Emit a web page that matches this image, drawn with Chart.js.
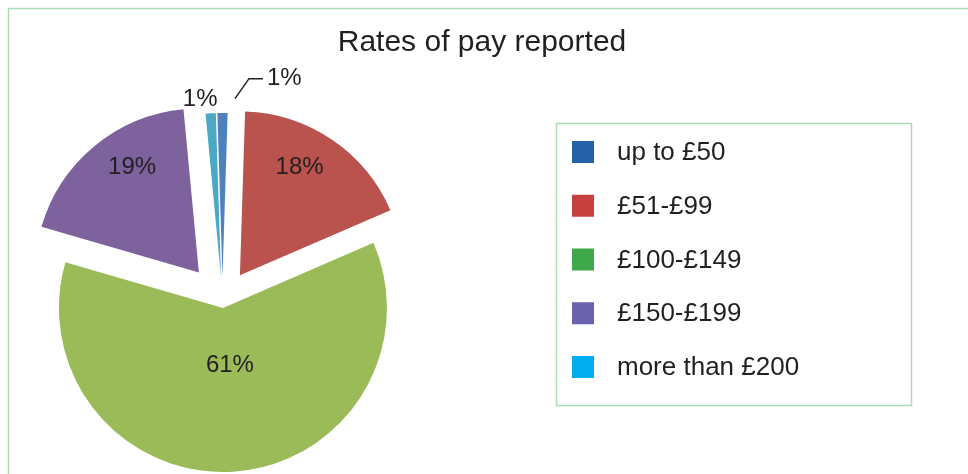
<!DOCTYPE html>
<html>
<head>
<meta charset="utf-8">
<script src="https://cdn.jsdelivr.net/npm/chart.js@4.4.1/dist/chart.umd.min.js"></script>
<style>
  html, body { margin: 0; padding: 0; background: #ffffff; }
  #wrap { width: 968px; height: 474px; }
</style>
</head>
<body>
<div id="wrap"><canvas id="c" width="968" height="474"></canvas></div>
<script>
// ---- data ----
const title = 'Rates of pay reported';
const categories = ['up to £50', '£51-£99', '£100-£149', '£150-£199', 'more than £200'];
const percentValues = [1, 18, 61, 19, 1];

// ---- styles ----
const sliceColors = ['#4F81BD', '#BA524E', '#9BBB59', '#7D629E', '#4BA9C4'];
const legendColors = ['#2360A8', '#C8403E', '#3FA84A', '#6A62AC', '#00AEEF'];
const sliceShift = [24, 31, 7, 37, 24];          // explosion distance (px)
const labelFrac = [1.09, 0.75, 0.35, 0.76, 1.09]; // label distance as fraction of radius
const labelTurn = [4, -5.2, -3.4, 7.2, -3.1];     // angular tweak of label (deg)
const FONT = '"Liberation Sans", Arial, Helvetica, sans-serif';
const TEXT = '#231F20';
const FRAME = '#A8DCB4';

const explodePlugin = {
  id: 'explode',
  afterDatasetUpdate(chart, args) {
    const meta = chart.getDatasetMeta(args.index);
    meta.data.forEach((arc, i) => {
      const mid = (arc.startAngle + arc.endAngle) / 2;
      arc.x += Math.cos(mid) * sliceShift[i];
      arc.y += Math.sin(mid) * sliceShift[i];
    });
  }
};

const decorPlugin = {
  id: 'decor',
  afterDraw(chart) {
    const ctx = chart.ctx;
    ctx.save();
    // outer frame
    ctx.strokeStyle = FRAME;
    ctx.lineWidth = 1.5;
    ctx.strokeRect(8.5, 8.5, 980, 500);

    // title
    ctx.fillStyle = TEXT;
    ctx.font = '30px ' + FONT;
    ctx.textAlign = 'center';
    ctx.textBaseline = 'alphabetic';
    ctx.fillText(title, 482, 51);

    // legend
    ctx.strokeStyle = FRAME;
    ctx.lineWidth = 1.5;
    ctx.strokeRect(556.5, 123.5, 355, 282);
    ctx.font = '26px ' + FONT;
    ctx.textAlign = 'left';
    ctx.textBaseline = 'middle';
    categories.forEach((c, i) => {
      const cy = 152 + i * 53.75;
      ctx.fillStyle = legendColors[i];
      ctx.fillRect(572, cy - 11, 22, 22);
      ctx.fillStyle = TEXT;
      ctx.fillText(c, 617, cy + 1);
    });

    // data labels
    const meta = chart.getDatasetMeta(0);
    const data = chart.data.datasets[0].data;
    const total = data.reduce((a, b) => a + b, 0);
    ctx.font = '24px ' + FONT;
    ctx.fillStyle = TEXT;
    meta.data.forEach((arc, i) => {
      const mid = (arc.startAngle + arc.endAngle) / 2 + labelTurn[i] * Math.PI / 180;
      const r = arc.outerRadius * labelFrac[i];
      const px = arc.x + Math.cos(mid) * r;
      const py = arc.y + Math.sin(mid) * r;
      const txt = Math.round(data[i] / total * 100) + '%';
      if (i === 0) {
        // leader line
        ctx.strokeStyle = TEXT;
        ctx.lineWidth = 1.5;
        ctx.beginPath();
        ctx.moveTo(px, py);
        ctx.lineTo(px + 14, py - 20);
        ctx.lineTo(px + 28, py - 20);
        ctx.stroke();
        ctx.textAlign = 'left';
        ctx.fillText(txt, px + 32, py - 20);
      } else {
        ctx.textAlign = 'center';
        ctx.fillText(txt, px, py);
      }
    });
    ctx.restore();
  }
};

new Chart(document.getElementById('c'), {
  type: 'pie',
  data: {
    labels: categories,
    datasets: [{
      data: percentValues,
      backgroundColor: sliceColors,
      borderWidth: 0
    }]
  },
  options: {
    responsive: false,
    animation: false,
    events: [],
    rotation: -1.8,
    radius: 164,
    layout: { padding: { left: 0, right: 523, top: 128, bottom: 0 } },
    plugins: {
      legend: { display: false },
      tooltip: { enabled: false },
      title: { display: false }
    }
  },
  plugins: [explodePlugin, decorPlugin]
});
</script>
</body>
</html>
